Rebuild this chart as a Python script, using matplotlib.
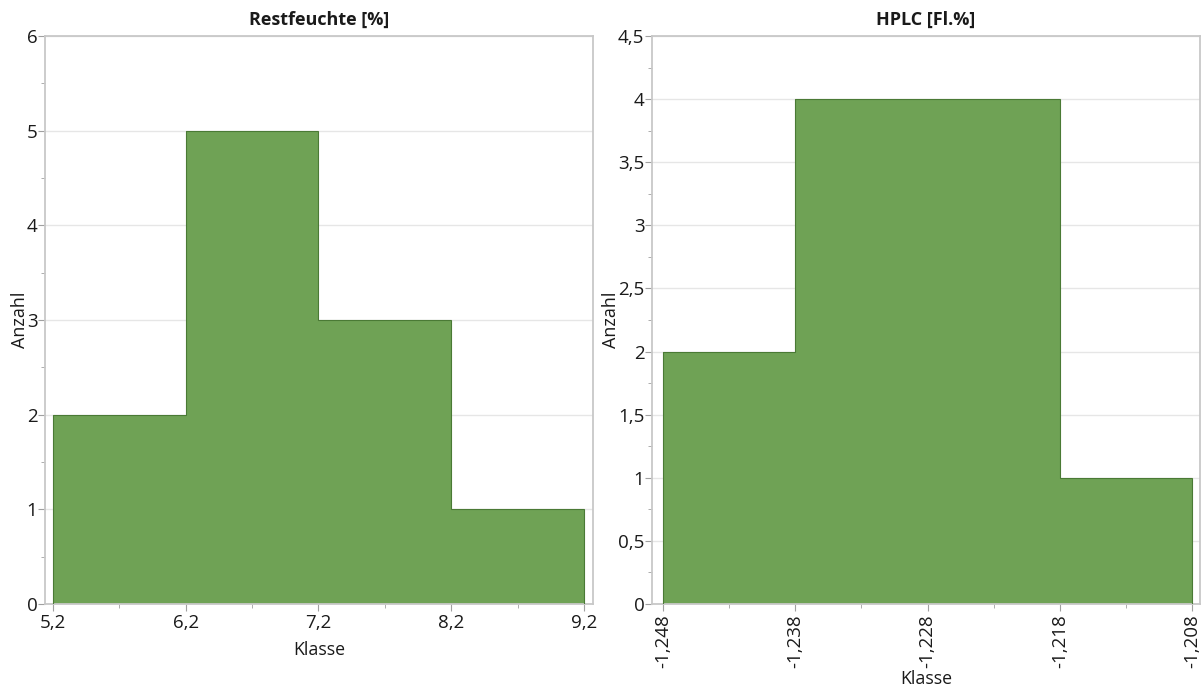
import matplotlib
matplotlib.use("Agg")
import matplotlib.pyplot as plt
from matplotlib.ticker import FixedLocator, MultipleLocator, FuncFormatter

plt.rcParams['font.family'] = ['Open Sans', 'DejaVu Sans']

# Data
rest_edges = [5.2, 6.2, 7.2, 8.2, 9.2]
rest_counts = [2, 5, 3, 1]
hplc_edges = [-1.248, -1.238, -1.228, -1.218, -1.208]
hplc_counts = [2, 4, 4, 1]
titles = ["Restfeuchte [%]", "HPLC [Fl.%]"]

bar_color = "#6fa255"
edge_color = "#4a7a35"
spine_color = "#c8c8c8"
grid_color = "#e6e6e6"
text_color = "#1a1a1a"

fig = plt.figure(figsize=(12.01, 6.89), dpi=100)
W, H = 1201, 689
ax1 = fig.add_axes([45 / W, 1 - 604 / H, 548 / W, 568 / H])
ax2 = fig.add_axes([652 / W, 1 - 604 / H, 548 / W, 568 / H])


def comma(dec):
    def f(v, pos):
        s = f"{v:.{dec}f}".replace('.', ',')
        if dec > 0:
            s = s.rstrip('0').rstrip(',')
        return s
    return FuncFormatter(f)


def style(ax, title):
    for sp in ax.spines.values():
        sp.set_color(spine_color)
        sp.set_linewidth(1.3)
    ax.set_axisbelow(True)
    ax.yaxis.grid(True, which='major', color=grid_color, linewidth=1)
    ax.tick_params(which='both', color='#a0a0a0', labelcolor=text_color, labelsize=13.5)
    ax.tick_params(which='major', length=5)
    ax.tick_params(axis='y', which='major', pad=0.5)
    ax.tick_params(axis='x', which='major', pad=2.5)
    ax.tick_params(which='minor', length=3)
    ax.set_title(title, fontsize=13, fontweight='bold', color=text_color, pad=8)
    ax.set_ylabel("Anzahl", fontsize=13, color=text_color)
    ax.set_xlabel("Klasse", fontsize=12.8, color=text_color, labelpad=6)


# Left histogram
ax1.stairs(rest_counts, rest_edges, fill=True, facecolor=bar_color,
           edgecolor=bar_color, zorder=2)
ax1.stairs(rest_counts, rest_edges, fill=False, baseline=0, color=edge_color,
           linewidth=0.8, zorder=3)
ax1.set_xlim(5.14, 9.268)
ax1.set_ylim(0, 6)
ax1.xaxis.set_major_locator(FixedLocator(rest_edges))
ax1.xaxis.set_minor_locator(FixedLocator([(a + b) / 2 for a, b in zip(rest_edges[:-1], rest_edges[1:])]))
ax1.xaxis.set_major_formatter(comma(1))
ax1.yaxis.set_major_locator(MultipleLocator(1))
ax1.yaxis.set_minor_locator(MultipleLocator(0.5))
ax1.yaxis.set_major_formatter(comma(0))
style(ax1, titles[0])
ax1.yaxis.set_label_coords(-0.029, 0.5)

# Right histogram
ax2.stairs(hplc_counts, hplc_edges, fill=True, facecolor=bar_color,
           edgecolor=bar_color, zorder=2)
ax2.stairs(hplc_counts, hplc_edges, fill=False, baseline=0, color=edge_color,
           linewidth=0.8, zorder=3)
ax2.set_xlim(-1.24883, -1.2074)
ax2.set_ylim(0, 4.5)
ax2.xaxis.set_major_locator(FixedLocator(hplc_edges))
ax2.xaxis.set_minor_locator(FixedLocator([(a + b) / 2 for a, b in zip(hplc_edges[:-1], hplc_edges[1:])]))
ax2.xaxis.set_major_formatter(FuncFormatter(lambda v, p: f"{v:.3f}".replace('.', ',')))
ax2.yaxis.set_major_locator(MultipleLocator(0.5))
ax2.yaxis.set_minor_locator(MultipleLocator(0.25))
ax2.yaxis.set_major_formatter(comma(1))
style(ax2, titles[1])
ax2.yaxis.set_label_coords(-0.059, 0.5)
ax2.xaxis.labelpad = 1
for lab in ax2.get_xticklabels():
    lab.set_rotation(90)

fig.savefig("out.png", dpi=100)
